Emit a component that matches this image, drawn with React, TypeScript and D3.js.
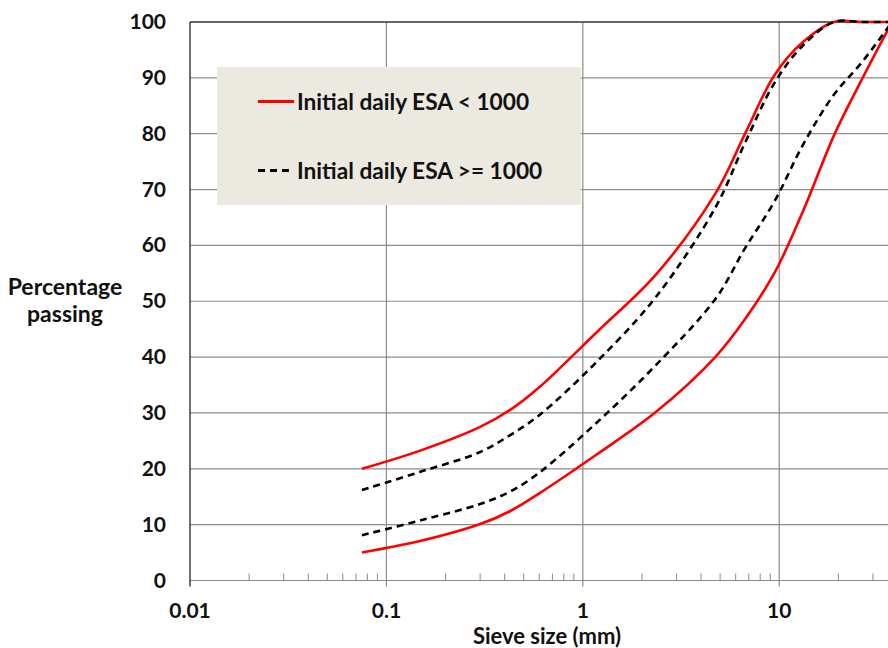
import { useEffect, useRef } from "react"
import * as d3 from "d3"

// sieve sizes (mm)
const sieves = [0.075, 0.15, 0.3, 0.425, 0.6, 1.18, 2.36, 4.75, 6.7, 9.5, 13.2, 19, 26.5, 37.5]

// percentage passing envelopes
const redUpper = [20, 23.3, 27.5, 30.5, 34.6, 44.5, 54.8, 69.4, 80, 90.6, 96.4, 100, 100, 100]
const redLower = [5, 7.1, 10.1, 12.4, 15.6, 22.6, 30.2, 40.1, 46.8, 55.2, 66.1, 79.7, 89.9, 100]
const blackUpper = [16.2, 19.5, 23, 26, 29.6, 39.2, 50.8, 66.9, 78.4, 89.2, 95.8, 100, 100, 100]
const blackLower = [8.1, 10.8, 13.7, 15.9, 19.3, 28.3, 38.6, 50.5, 59.5, 68, 78, 87, 92.9, 100]

const yTicks = [0, 10, 20, 30, 40, 50, 60, 70, 80, 90, 100]
const xTicks = [0.01, 0.1, 1, 10]
const xTickLabels = ["0.01", "0.1", "1", "10"]

const legendItems = [
  { label: "Initial daily ESA < 1000", color: "#ff0000", dash: null },
  { label: "Initial daily ESA >= 1000", color: "#000000", dash: "7,5" },
]

const FONT = "Lato, 'Open Sans', sans-serif"

export default function App() {
  const svgRef = useRef<SVGSVGElement>(null)

  useEffect(() => {
    if (!svgRef.current) return
    const svg = d3.select(svgRef.current)
    svg.selectAll("*").remove()

    const left = 190
    const bottom = 580.5
    const top = 22

    const x = d3.scaleLog().domain([0.01, 37.5]).range([left, 892])
    const y = d3.scaleLinear().domain([0, 100]).range([bottom, top])

    const g = svg.append("g")

    // horizontal grid
    g.selectAll(".hgrid")
      .data(yTicks.filter((d) => d > 0 && d < 100))
      .enter()
      .append("line")
      .attr("x1", left)
      .attr("x2", 888)
      .attr("y1", (d) => y(d))
      .attr("y2", (d) => y(d))
      .attr("stroke", "#8c8c8c")
      .attr("stroke-width", 1.2)

    // vertical grid at decades
    g.selectAll(".vgrid")
      .data(xTicks.slice(1))
      .enter()
      .append("line")
      .attr("x1", (d) => x(d))
      .attr("x2", (d) => x(d))
      .attr("y1", top)
      .attr("y2", bottom + 6)
      .attr("stroke", "#8c8c8c")
      .attr("stroke-width", 1.2)

    // minor ticks
    const minor: number[] = []
    ;[0.01, 0.1, 1, 10].forEach((dec) => {
      for (let k = 2; k <= 9; k++) {
        const v = dec * k
        if (v <= 37.5) minor.push(v)
      }
    })
    g.selectAll(".minor")
      .data(minor)
      .enter()
      .append("line")
      .attr("x1", (d) => x(d))
      .attr("x2", (d) => x(d))
      .attr("y1", bottom - 7)
      .attr("y2", bottom)
      .attr("stroke", "#8c8c8c")
      .attr("stroke-width", 1)

    // axes frame
    g.append("line").attr("x1", left).attr("x2", 888).attr("y1", bottom).attr("y2", bottom).attr("stroke", "#8c8c8c").attr("stroke-width", 1.2)
    g.append("line").attr("x1", left).attr("x2", 888).attr("y1", top).attr("y2", top).attr("stroke", "#333").attr("stroke-width", 1.4)
    g.append("line").attr("x1", left).attr("x2", left).attr("y1", top).attr("y2", bottom + 6).attr("stroke", "#333").attr("stroke-width", 1.4)

    // legend box
    g.append("rect").attr("x", 217).attr("y", 67).attr("width", 364).attr("height", 138).attr("fill", "#ece9e1")

    // curves
    const line = d3
      .line<number>()
      .x((_, i) => x(sieves[i]))
      .y((d) => y(d))
      .curve(d3.curveCatmullRom.alpha(0.5))

    const clip = svg.append("clipPath").attr("id", "plotclip")
    clip.append("rect").attr("x", left).attr("y", top - 3).attr("width", 888 - left).attr("height", bottom - top + 6)

    const series = [
      { values: redUpper, color: "#ff0000", dash: null },
      { values: redLower, color: "#ff0000", dash: null },
      { values: blackUpper, color: "#000000", dash: "7,5" },
      { values: blackLower, color: "#000000", dash: "7,5" },
    ]
    series.forEach((s) => {
      g.append("path")
        .datum(s.values)
        .attr("clip-path", "url(#plotclip)")
        .attr("fill", "none")
        .attr("stroke", s.color)
        .attr("stroke-width", 2.6)
        .attr("stroke-dasharray", s.dash)
        .attr("d", line)
    })

    // legend entries
    legendItems.forEach((item, i) => {
      const ly = 101.5 + i * 69
      g.append("line")
        .attr("x1", 258)
        .attr("x2", item.dash ? 292 : 294)
        .attr("y1", ly)
        .attr("y2", ly)
        .attr("stroke", item.color)
        .attr("stroke-width", 2.8)
        .attr("stroke-dasharray", item.dash)
      g.append("text")
        .attr("x", 297)
        .attr("y", ly + 8)
        .attr("font-family", FONT)
        .attr("font-weight", "bold")
        .attr("font-size", 22.7)
        .attr("fill", "#111")
        .text(item.label)
    })

    // y tick labels
    g.selectAll(".ylab")
      .data(yTicks)
      .enter()
      .append("text")
      .attr("x", 166)
      .attr("y", (d) => y(d) + 7)
      .attr("text-anchor", "end")
      .attr("font-family", FONT)
      .attr("font-weight", "bold")
      .attr("font-size", 21)
      .attr("fill", "#111")
      .text((d) => d)

    // x tick labels
    g.selectAll(".xlab")
      .data(xTicks)
      .enter()
      .append("text")
      .attr("x", (d) => x(d))
      .attr("y", 618)
      .attr("text-anchor", "middle")
      .attr("font-family", FONT)
      .attr("font-weight", "bold")
      .attr("font-size", 21)
      .attr("fill", "#111")
      .text((_, i) => xTickLabels[i])

    // axis titles
    g.append("text")
      .attr("x", 547)
      .attr("y", 644)
      .attr("text-anchor", "middle")
      .attr("font-family", FONT)
      .attr("font-weight", "bold")
      .attr("font-size", 22)
      .attr("fill", "#111")
      .text("Sieve size (mm)")

    const yt = g
      .append("text")
      .attr("text-anchor", "middle")
      .attr("font-family", FONT)
      .attr("font-weight", "bold")
      .attr("font-size", 23)
      .attr("fill", "#111")
    yt.append("tspan").attr("x", 65).attr("y", 295).text("Percentage")
    yt.append("tspan").attr("x", 65).attr("y", 322).text("passing")
  }, [])

  return (
    <svg
      ref={svgRef}
      width={888}
      height={648}
      style={{ position: "fixed", left: 0, top: 0, background: "#fff" }}
    ></svg>
  )
}
